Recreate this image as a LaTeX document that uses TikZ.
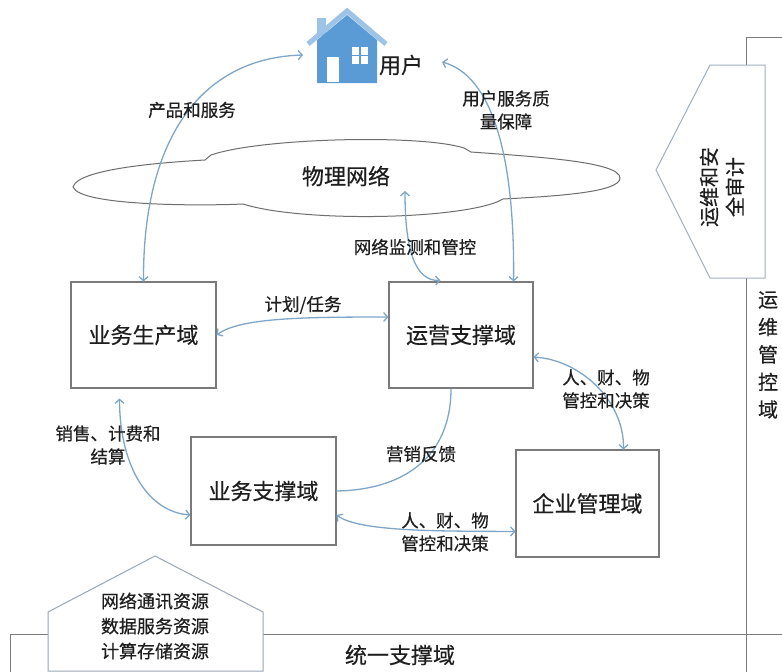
\documentclass[tikz,border=0pt]{standalone}
\usepackage{fontspec}
\newfontfamily\cjk[FakeBold=0.4]{Noto Sans CJK SC}
\usetikzlibrary{arrows.meta,calc}
\definecolor{arr}{HTML}{7EA6C9}
\definecolor{boxc}{HTML}{7A7A7A}
\definecolor{txt}{HTML}{1E1E1E}
\definecolor{hbody}{HTML}{5B9BD5}
\definecolor{hroof}{HTML}{9DC3E6}
\definecolor{pent}{HTML}{9FB0C0}
\tikzset{
  myb/.tip={Straight Barb[length=4pt,width=9pt]},
  box/.style={draw=boxc, line width=1.1pt, inner sep=0pt, text=txt,
    font=\cjk\fontsize{22}{26}\selectfont},
  lbl/.style={font=\cjk\fontsize{17.5}{23}\selectfont, align=center, text=txt, inner sep=0pt},
  big/.style={font=\cjk\fontsize{22}{26}\selectfont, align=center, text=txt, inner sep=0pt},
  conn/.style={draw=arr, line width=1.3pt},
  both/.style={conn, myb-myb},
  frame/.style={draw=boxc, line width=1pt},
}
\begin{document}
\begin{tikzpicture}[x=1pt,y=-1pt]
\useasboundingbox (0,0) rectangle (782,672);
\fill[white] (0,0) rectangle (782,672);

% right frame and bottom domain
\draw[frame] (782,37) -- (746,37) -- (746,672);
\draw[frame] (10,672) -- (10,634) -- (782,634);
\node[big] (uni) at (400,655) {统一支撑域};

% bottom house-shaped resource block
\draw[draw=pent!80!gray, line width=1pt, fill=white] (48,671) -- (48,612) -- (155,556) -- (263,612) -- (263,671) -- cycle;
\node[font=\cjk\fontsize{18}{25}\selectfont, align=center, text=txt, inner sep=0pt] (res) at (155,626) {网络通讯资源\\数据服务资源\\计算存储资源};

% right pentagon
\draw[draw=pent, line width=1pt, fill=white] (710,65) -- (765,65) -- (765,278) -- (710,278) -- (656,170) -- cycle;
\node[font=\cjk\fontsize{20}{26}\selectfont, align=center, text=txt, inner sep=0pt, rotate=90] (audit) at (722,187) {运维和安\\全审计};
\node[font=\cjk\fontsize{20}{27.5}\selectfont, align=center, text=txt, inner sep=0pt] (ops) at (768,355) {运\\维\\管\\控\\域};

% cloud
\draw[draw=boxc!90!black, line width=1pt, fill=white]
  (73,187) .. controls (78,168) and (170,162) .. (205,160) -- (211,155)
  .. controls (260,138) and (420,134) .. (464,148) -- (471,152)
  .. controls (540,157) and (620,162) .. (620,178)
  .. controls (620,192) and (560,196) .. (503,199) -- (497,202)
  .. controls (450,220) and (300,222) .. (243,204)
  .. controls (200,206) and (80,206) .. (73,187) -- cycle;
\node[big] (net) at (346,176) {物理网络};
\coordinate (cloudB) at (405,191);

% house icon
\fill[hroof] (317,18) rectangle (326,36);
\fill[hbody] (317,83) -- (317,40) -- (347,15) -- (377,40) -- (377,83) -- cycle;
\draw[hroof, line width=5pt, line join=miter] (308,44) -- (347,11) -- (386,44);
\fill[white] (327,57) rectangle (339,82);
\fill[white] (352,47) rectangle (368,64);
\draw[hbody, line width=1.6pt] (360,47) -- (360,64) (352,55.5) -- (368,55.5);
\node[big] (user) at (401,65) {用户};
\coordinate (houseL) at (303,55);
\coordinate (userR) at (442,62);

% domain boxes
\node[box, minimum width=145pt, minimum height=106pt] (bp) at (143.5,335) {业务生产域};
\node[box, minimum width=144pt, minimum height=106pt] (op) at (461,335) {运营支撑域};
\node[box, minimum width=145pt, minimum height=108pt] (bs) at (263.5,491) {业务支撑域};
\node[box, minimum width=143pt, minimum height=107pt] (em) at (587.5,503.5) {企业管理域};

% connectors
\draw[both] (bp.north) .. controls (143,140) and (200,58) .. (houseL);
\draw[both] (userR) .. controls (490,75) and (515,150) .. ($(op.north east)+(-20,0)$);
\draw[both] (cloudB) .. controls (405,250) and (415,281) .. ($(op.north west)+(52,-1)$);
\draw[both] (bp.east) .. controls (240,318) and (300,317) .. ($(op.west)+(0,-18)$);
\draw[both] ($(op.east)+(0,22)$) .. controls (580,360) and (624,400) .. ($(em.north)+(36,0)$);
\draw[conn] ($(op.south)+(-10,0)$) .. controls (451,460) and (400,490) .. (bs.east);
\draw[both] ($(bp.south west)+(49,10)$) .. controls (120,470) and (150,512) .. ($(bs.west)+(0,24)$);
\draw[both] ($(bs.east)+(0,24)$) .. controls (360,532) and (440,531) .. ($(em.west)+(0,28)$);

% labels
\node[lbl] (l1) at (192,110) {产品和服务};
\node[lbl] (l2) at (506,110) {用户服务质\\量保障};
\node[lbl] (l3) at (415,247) {网络监测和管控};
\node[lbl] (l4) at (303,305) {计划/任务};
\node[lbl] (l5) at (606,389) {人、财、物\\管控和决策};
\node[lbl] (l6) at (421,454) {营销反馈};
\node[lbl] (l7) at (108,445) {销售、计费和\\结算};
\node[lbl] (l8) at (445,532) {人、财、物\\管控和决策};
\end{tikzpicture}
\end{document}
